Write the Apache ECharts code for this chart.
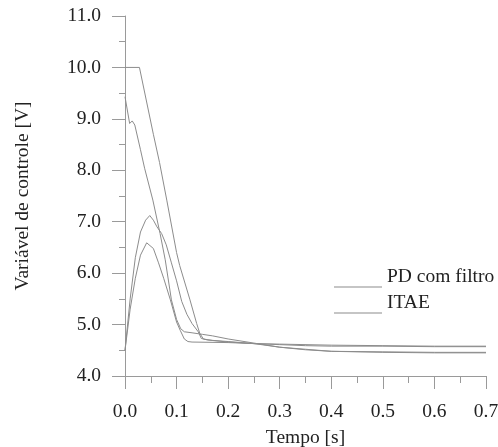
<!DOCTYPE html>
<html>
<head>
<meta charset="utf-8">
<script src="https://cdn.jsdelivr.net/npm/echarts@6/dist/echarts.min.js"></script>
<style>html,body{margin:0;padding:0;background:#fff}#c{width:498px;height:447px}</style>
</head>
<body>
<div id="c"></div>
<script>
// Curve A: PD com filtro (saturated at 10 V)
var tA = [0, 0.028, 0.055, 0.067, 0.081, 0.1, 0.106, 0.126, 0.139, 0.145, 0.152, 0.17, 0.2, 0.25, 0.3, 0.35, 0.4, 0.5, 0.6, 0.7];
var vA = [10, 10, 8.7, 8.15, 7.42, 6.4, 6.15, 5.48, 5.02, 4.83, 4.72, 4.69, 4.66, 4.63, 4.61, 4.59, 4.58, 4.58, 4.57, 4.57];
// Curve B: ITAE (starts near 9.4 V)
var tB = [0, 0.009, 0.014, 0.019, 0.03, 0.038, 0.054, 0.068, 0.078, 0.09, 0.1, 0.108, 0.115, 0.13, 0.15, 0.17, 0.2, 0.25, 0.3, 0.35, 0.4, 0.5, 0.6, 0.7];
var vB = [9.43, 8.91, 8.96, 8.88, 8.4, 8.04, 7.42, 6.77, 6.26, 5.48, 5.1, 4.92, 4.86, 4.84, 4.81, 4.78, 4.72, 4.64, 4.56, 4.51, 4.48, 4.47, 4.46, 4.46];
// Curve C: PD com filtro (peak ~7.1 V)
var tC = [0, 0.01, 0.02, 0.03, 0.04, 0.048, 0.055, 0.062, 0.071, 0.08, 0.09, 0.1, 0.11, 0.12, 0.13, 0.142, 0.148, 0.16, 0.2, 0.25, 0.3, 0.35, 0.4, 0.5, 0.6, 0.7];
var vC = [4.5, 5.5, 6.3, 6.8, 7.03, 7.12, 7.03, 6.9, 6.77, 6.55, 6.2, 5.85, 5.45, 5.2, 5.02, 4.86, 4.73, 4.7, 4.67, 4.63, 4.56, 4.52, 4.48, 4.46, 4.45, 4.45];
// Curve D: ITAE (peak ~6.6 V)
var tD = [0, 0.01, 0.02, 0.03, 0.042, 0.055, 0.065, 0.075, 0.088, 0.1, 0.107, 0.115, 0.122, 0.13, 0.2, 0.25, 0.3, 0.4, 0.5, 0.6, 0.7];
var vD = [4.5, 5.3, 5.9, 6.35, 6.59, 6.48, 6.2, 5.9, 5.48, 5.05, 4.89, 4.72, 4.67, 4.66, 4.65, 4.63, 4.62, 4.6, 4.59, 4.58, 4.58];

var legendNames = ['PD com filtro', 'ITAE'];
var xTitle = 'Tempo [s]';
var yTitle = 'Variável de controle [V]';

function pairs(t, v) { return t.map(function (x, i) { return [x, v[i]]; }); }

var FONT = 'Liberation Serif';
var FS = 19.5;
var TXT = '#222';
var AX = '#9a9a9a';
var LINE = '#8c8c8c';

function mkSeries(name, t, v) {
  return { name: name, type: 'line', data: pairs(t, v), showSymbol: false, symbol: 'none',
    lineStyle: { color: LINE, width: 1 }, itemStyle: { color: LINE }, animation: false };
}

// legend marker: a line drawn at the bottom of the item box (underline style)
var legendIcon = 'path://M0,0 L0.01,0 L0.01,0.01 Z M0,20 L48,20 L48,21 L0,21 Z';

function mkLegend(name, top) {
  return { data: [name], orient: 'vertical', left: 329, top: top, selectedMode: false,
    icon: legendIcon, itemWidth: 48, itemHeight: 21,
    itemStyle: { color: LINE },
    textStyle: { fontFamily: FONT, fontSize: FS, color: TXT } };
}

var chart = echarts.init(document.getElementById('c'));
chart.setOption({
  backgroundColor: '#fff',
  animation: false,
  grid: { left: 125, right: 12, top: 16, bottom: 71, containLabel: false, outerBoundsMode: 'none' },
  legend: [mkLegend(legendNames[0], 261.5), mkLegend(legendNames[1], 287.5)],
  xAxis: {
    type: 'value', min: 0, max: 0.7, interval: 0.1,
    name: xTitle, nameLocation: 'middle', nameGap: 52,
    nameTextStyle: { fontFamily: FONT, fontSize: FS, color: TXT },
    axisLine: { show: true, lineStyle: { color: AX, width: 1 } },
    axisTick: { show: true, length: 13, lineStyle: { color: AX } },
    minorTick: { show: true, splitNumber: 2, length: 7, lineStyle: { color: AX } },
    splitLine: { show: false },
    axisLabel: { fontFamily: FONT, fontSize: FS, color: TXT, margin: 26, formatter: function (v) { return v.toFixed(1); } }
  },
  yAxis: {
    type: 'value', min: 4, max: 11, interval: 1,
    name: yTitle, nameLocation: 'middle', nameGap: 92, nameRotate: 90,
    nameTextStyle: { fontFamily: FONT, fontSize: FS, color: TXT },
    axisLine: { show: true, lineStyle: { color: AX, width: 1 } },
    axisTick: { show: true, length: 13, lineStyle: { color: AX } },
    minorTick: { show: true, splitNumber: 2, length: 6, lineStyle: { color: AX } },
    splitLine: { show: false },
    axisLabel: { fontFamily: FONT, fontSize: FS, color: TXT, margin: 24, formatter: function (v) { return v.toFixed(1); } }
  },
  series: [
    mkSeries(legendNames[0], tA, vA),
    mkSeries(legendNames[1], tB, vB),
    mkSeries(legendNames[0], tC, vC),
    mkSeries(legendNames[1], tD, vD)
  ]
});
</script>
</body>
</html>
